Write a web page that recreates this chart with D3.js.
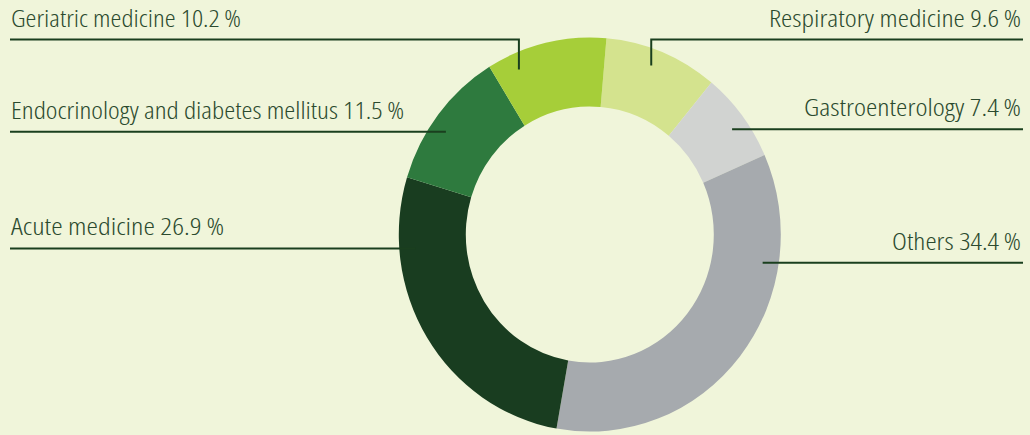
<!DOCTYPE html>
<html>
<head>
<meta charset="utf-8">
<script src="https://cdn.jsdelivr.net/npm/d3@7"></script>
<style>
  html, body { margin: 0; padding: 0; background: #f0f5da; }
  #chart { width: 1030px; height: 435px; }
</style>
</head>
<body>
<div id="chart"></div>
<script>
// slices, clockwise from just right of 12 o'clock
const categories = [
  'Respiratory medicine',
  'Gastroenterology',
  'Others',
  'Acute medicine',
  'Endocrinology and diabetes mellitus',
  'Geriatric medicine'
];
const shares = [9.6, 7.4, 34.4, 26.9, 11.5, 10.2];
const colors = ['#d4e38e', '#d1d3d1', '#a6aaae', '#193d20', '#2e7a3e', '#a6ce39'];

// label layout: side, whether the leader bends down from the top rule,
// where along the slice the leader ends, and the rendered text width
const labelSide = ['right', 'right', 'right', 'left', 'left', 'left'];
const labelElbow = [true, false, false, false, false, true];
const leaderAt = [0.45, 0.557, 0.265, 0.78, 0.43, 0.213];
const labelWidth = [252, 217, 129, 213, 393, 230];

const W = 1030, H = 435;
const cx = 589.8, cy = 234.5;
const rOuter = 191, rInner = 124, rLeader = 175;
const yStretch = 1.032;
const topRuleY = 39.5;
const leftX = 10, rightX = 1023;
const lineColor = '#1a3f1e';
const textColor = '#2b4a2e';

const svg = d3.select('#chart').append('svg')
  .attr('width', W)
  .attr('height', H);

svg.append('rect')
  .attr('width', W)
  .attr('height', H)
  .attr('fill', '#f0f5da');

const rad = deg => deg * Math.PI / 180;

const pie = d3.pie()
  .sort(null)
  .value(d => d)
  .startAngle(rad(5))
  .endAngle(rad(365));

const arcs = pie(shares);

const arc = d3.arc()
  .innerRadius(rInner)
  .outerRadius(rOuter);

const ring = svg.append('g')
  .attr('transform', `translate(${cx},${cy}) scale(1,${yStretch})`);

ring.selectAll('path')
  .data(arcs)
  .join('path')
  .attr('d', arc)
  .attr('fill', (d, i) => colors[i]);

// leader end point inside the ring
const leaderEnd = (d, i) => {
  const a = d.startAngle + leaderAt[i] * (d.endAngle - d.startAngle);
  return [cx + rLeader * Math.sin(a), cy - rLeader * Math.cos(a) * yStretch];
};

const labels = svg.append('g');

arcs.forEach((d, i) => {
  const [ex, ey] = leaderEnd(d, i);
  const left = labelSide[i] === 'left';
  const x0 = left ? leftX : rightX;
  let path, lineY;
  if (labelElbow[i]) {
    lineY = topRuleY;
    path = `M${x0},${lineY}H${ex}V${ey}`;
  } else {
    lineY = ey;
    path = `M${x0},${lineY}H${ex}`;
  }

  labels.append('path')
    .attr('d', path)
    .attr('fill', 'none')
    .attr('stroke', lineColor)
    .attr('stroke-width', 2);

  const t = labels.append('text')
    .attr('y', lineY - 13)
    .style('font-family', '"Open Sans", "Noto Sans", sans-serif')
    .style('font-stretch', '84%')
    .style('font-weight', 300)
    .style('font-size', '23px')
    .attr('fill', textColor)
    .text(`${categories[i]} ${shares[i].toFixed(1)}\u2009%`);

  // fit the text to the measured width of the original label
  t.attr('x', left ? leftX + 1 : rightX - 2 - labelWidth[i])
    .attr('textLength', labelWidth[i])
    .attr('lengthAdjust', 'spacingAndGlyphs');
});
</script>
</body>
</html>
